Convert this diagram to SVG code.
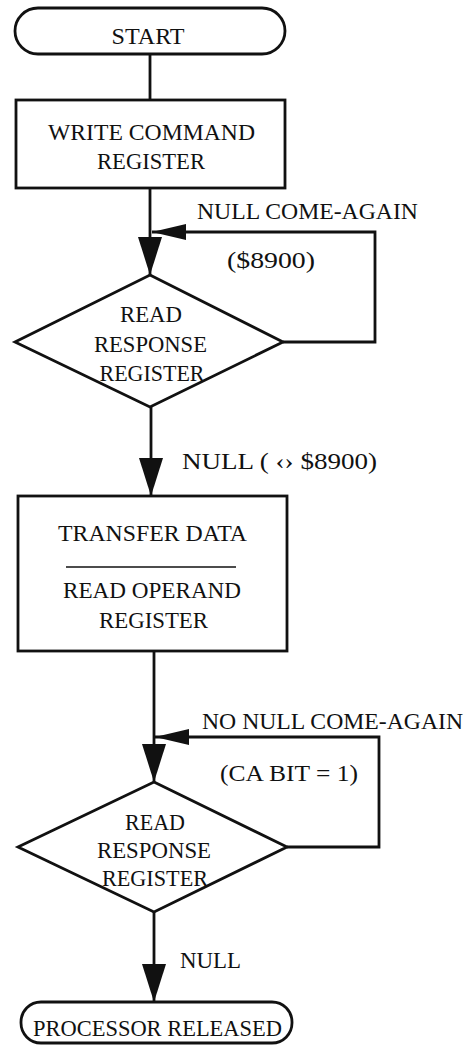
<svg xmlns="http://www.w3.org/2000/svg" width="467" height="1046" viewBox="0 0 467 1046">
<style>
.s{fill:#fff;stroke:#111;stroke-width:2.8}
.c{fill:none;stroke:#111;stroke-width:2.8}
.t{font-family:"Liberation Serif","DejaVu Serif",serif;font-size:23px;fill:#111;text-anchor:middle}
.l{font-family:"Liberation Serif","DejaVu Serif",serif;font-size:23px;fill:#111;text-anchor:start}
.sep{stroke:#111;stroke-width:1.5}
</style>
<defs>
<marker id="ad" markerUnits="userSpaceOnUse" markerWidth="40" markerHeight="26" refX="38" refY="12" orient="auto">
<path d="M0,0 L38,12 L0,24 z" fill="#111"/>
</marker>
<marker id="al" markerUnits="userSpaceOnUse" markerWidth="36" markerHeight="18" refX="34" refY="8" orient="auto">
<path d="M0,0 L34,8 L0,16 z" fill="#111"/>
</marker>
</defs>
<rect width="467" height="1046" fill="#fff"/>
<g id="connectors">
<path class="c" d="M150,54 L150,100"/>
<path class="c" d="M150,188 L150,275" marker-end="url(#ad)"/>
<path class="c" d="M283,342 L375,342 L375,232 L152,232" marker-end="url(#al)"/>
<path class="c" d="M151,407 L151,496" marker-end="url(#ad)"/>
<path class="c" d="M154,651 L154,782" marker-end="url(#ad)"/>
<path class="c" d="M287,847 L379,847 L379,737 L155,737" marker-end="url(#al)"/>
<path class="c" d="M154,912 L154,1002" marker-end="url(#ad)"/>
<text class="l" x="197" y="219" textLength="221" lengthAdjust="spacingAndGlyphs">NULL COME-AGAIN</text>
<text class="l" x="227" y="268" textLength="88" lengthAdjust="spacingAndGlyphs">($8900)</text>
<text class="l" x="182" y="469" textLength="195" lengthAdjust="spacingAndGlyphs">NULL ( ‹› $8900)</text>
<text class="l" x="202" y="729" textLength="261" lengthAdjust="spacingAndGlyphs">NO NULL COME-AGAIN</text>
<text class="l" x="220" y="781" textLength="138" lengthAdjust="spacingAndGlyphs">(CA BIT = 1)</text>
<text class="l" x="180" y="968" textLength="61" lengthAdjust="spacingAndGlyphs">NULL</text>
</g>
<g id="start">
<rect class="s" x="15" y="8" width="270" height="46" rx="23"/>
<text class="t" x="148" y="44" textLength="73" lengthAdjust="spacingAndGlyphs">START</text>
</g>
<g id="write-command">
<rect class="s" x="16" y="100" width="269" height="88"/>
<text class="t" x="151.5" y="140" textLength="207" lengthAdjust="spacingAndGlyphs">WRITE COMMAND</text>
<text class="t" x="151" y="169" textLength="108" lengthAdjust="spacingAndGlyphs">REGISTER</text>
</g>
<g id="read-response-1">
<polygon class="s" points="150,275 283,342 150,407 15,342"/>
<text class="t" x="151" y="322" textLength="62" lengthAdjust="spacingAndGlyphs">READ</text>
<text class="t" x="150.5" y="352" textLength="113" lengthAdjust="spacingAndGlyphs">RESPONSE</text>
<text class="t" x="152" y="381" textLength="105" lengthAdjust="spacingAndGlyphs">REGISTER</text>
</g>
<g id="transfer-data">
<rect class="s" x="18" y="496" width="269" height="155"/>
<text class="t" x="152.5" y="541" textLength="189" lengthAdjust="spacingAndGlyphs">TRANSFER DATA</text>
<line class="sep" x1="66" y1="567" x2="236" y2="567"/>
<text class="t" x="152" y="598" textLength="178" lengthAdjust="spacingAndGlyphs">READ OPERAND</text>
<text class="t" x="153.5" y="628" textLength="109" lengthAdjust="spacingAndGlyphs">REGISTER</text>
</g>
<g id="read-response-2">
<polygon class="s" points="154,782 287,847 154,912 18,847"/>
<text class="t" x="155" y="830" textLength="60" lengthAdjust="spacingAndGlyphs">READ</text>
<text class="t" x="154" y="858" textLength="114" lengthAdjust="spacingAndGlyphs">RESPONSE</text>
<text class="t" x="155" y="886" textLength="106" lengthAdjust="spacingAndGlyphs">REGISTER</text>
</g>
<g id="processor-released">
<rect class="s" x="21" y="1002" width="271" height="41" rx="20"/>
<text class="t" x="157.5" y="1036" textLength="249" lengthAdjust="spacingAndGlyphs">PROCESSOR RELEASED</text>
</g>
</svg>
